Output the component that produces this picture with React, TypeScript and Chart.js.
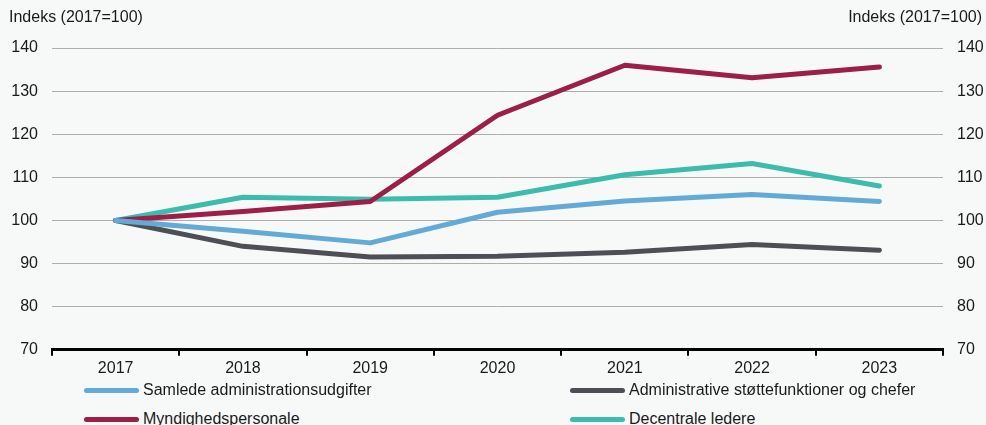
import React, { useEffect, useRef } from "react";
import { Chart, registerables } from "chart.js";

Chart.register(...registerables);

const years = ["2017", "2018", "2019", "2020", "2021", "2022", "2023"];
const samlede = [100, 97.5, 94.8, 101.9, 104.5, 106.0, 104.4];
const administrative = [100, 94.0, 91.5, 91.7, 92.6, 94.4, 93.1];
const myndighed = [100, 102.1, 104.4, 124.4, 136.0, 133.1, 135.6];
const decentrale = [100, 105.4, 104.9, 105.4, 110.6, 113.2, 108.0];

const seriesNames = [
  "Samlede administrationsudgifter",
  "Administrative støttefunktioner og chefer",
  "Myndighedspersonale",
  "Decentrale ledere",
];
const seriesColors = ["#63aad6", "#4e4f56", "#9c1f48", "#3dbcad"];
const seriesData = [samlede, administrative, myndighed, decentrale];
const axisTitle = "Indeks (2017=100)";

const BG = "#f7f9f9";
const FONT = "'Liberation Sans', Arial, Helvetica, sans-serif";
const FS = 16;

export default function App() {
  const ref = useRef<HTMLCanvasElement | null>(null);

  useEffect(() => {
    const ctx = ref.current!;
    const titlePlugin = {
      id: "titles",
      beforeDraw(chart: any) {
        const c = chart.ctx;
        c.save();
        c.fillStyle = BG;
        c.fillRect(0, 0, chart.width, chart.height);
        c.restore();
      },
      afterDraw(chart: any) {
        const c = chart.ctx;
        c.save();
        c.font = `${FS}px ${FONT}`;
        c.fillStyle = "#1a1a1a";
        c.textBaseline = "middle";
        c.textAlign = "left";
        c.fillText(axisTitle, 9, 18);
        c.textAlign = "right";
        c.fillText(axisTitle, 982, 18);
        c.restore();
      },
    };
    const chart = new Chart(ctx, {
      type: "line",
      data: {
        labels: years,
        datasets: seriesData.map((d, i) => ({
          label: seriesNames[i],
          data: d,
          borderColor: seriesColors[i],
          backgroundColor: seriesColors[i],
          borderWidth: 5,
          pointRadius: 0,
          borderCapStyle: "round" as const,
          borderJoinStyle: "round" as const,
          tension: 0,
          yAxisID: "y",
        })),
      },
      options: {
        animation: false,
        responsive: false,
        devicePixelRatio: 1,
        layout: { padding: { top: 48, left: 11, right: 0, bottom: 0 } },
        plugins: {
          legend: { display: false },
          tooltip: { enabled: false },
        },
        scales: {
          x: {
            type: "category",
            offset: true,
            grid: {
              offset: true,
              drawOnChartArea: false,
              drawTicks: true,
              tickLength: 6,
              color: "#000",
              lineWidth: 2,
            },
            border: { display: true, color: "#000", width: 3 },
            ticks: {
              color: "#1a1a1a",
              font: { family: FONT, size: FS },
              padding: 3,
              maxRotation: 0,
            },
          },
          y: {
            position: "left",
            min: 70,
            max: 140,
            afterFit(s: any) {
              s.width = 41;
            },
            grid: { color: "#adadad", lineWidth: 1, drawTicks: false },
            border: { display: false },
            ticks: {
              stepSize: 10,
              color: "#1a1a1a",
              font: { family: FONT, size: FS },
              padding: 14,
            },
          },
          y2: {
            position: "right",
            min: 70,
            max: 140,
            afterFit(s: any) {
              s.width = 43;
            },
            grid: { display: false, drawTicks: false },
            border: { display: false },
            ticks: {
              stepSize: 10,
              color: "#1a1a1a",
              font: { family: FONT, size: FS },
              padding: 14,
            },
          },
        },
      },
      plugins: [titlePlugin],
    });
    return () => chart.destroy();
  }, []);

  const legendPos = [
    { left: 84, top: 390 },
    { left: 570, top: 390 },
    { left: 84, top: 419 },
    { left: 570, top: 419 },
  ];

  return (
    <div
      style={{
        position: "fixed",
        left: 0,
        top: 0,
        width: 986,
        height: 425,
        background: BG,
        overflow: "hidden",
      }}
    >
      <canvas ref={ref} width={986} height={381} style={{ display: "block", width: 986, height: 381 }} />
      {seriesNames.map((name, i) => (
        <div
          key={name}
          style={{
            position: "absolute",
            left: legendPos[i].left,
            top: legendPos[i].top - 10,
            height: 20,
            display: "flex",
            alignItems: "center",
            fontFamily: FONT,
            fontSize: FS,
            color: "#1a1a1a",
            whiteSpace: "nowrap",
          }}
        >
          <span
            style={{
              display: "inline-block",
              width: 55,
              height: 5,
              borderRadius: 3,
              background: seriesColors[i],
              marginRight: 4,
            }}
          />
          <span>{name}</span>
        </div>
      ))}
    </div>
  );
}
